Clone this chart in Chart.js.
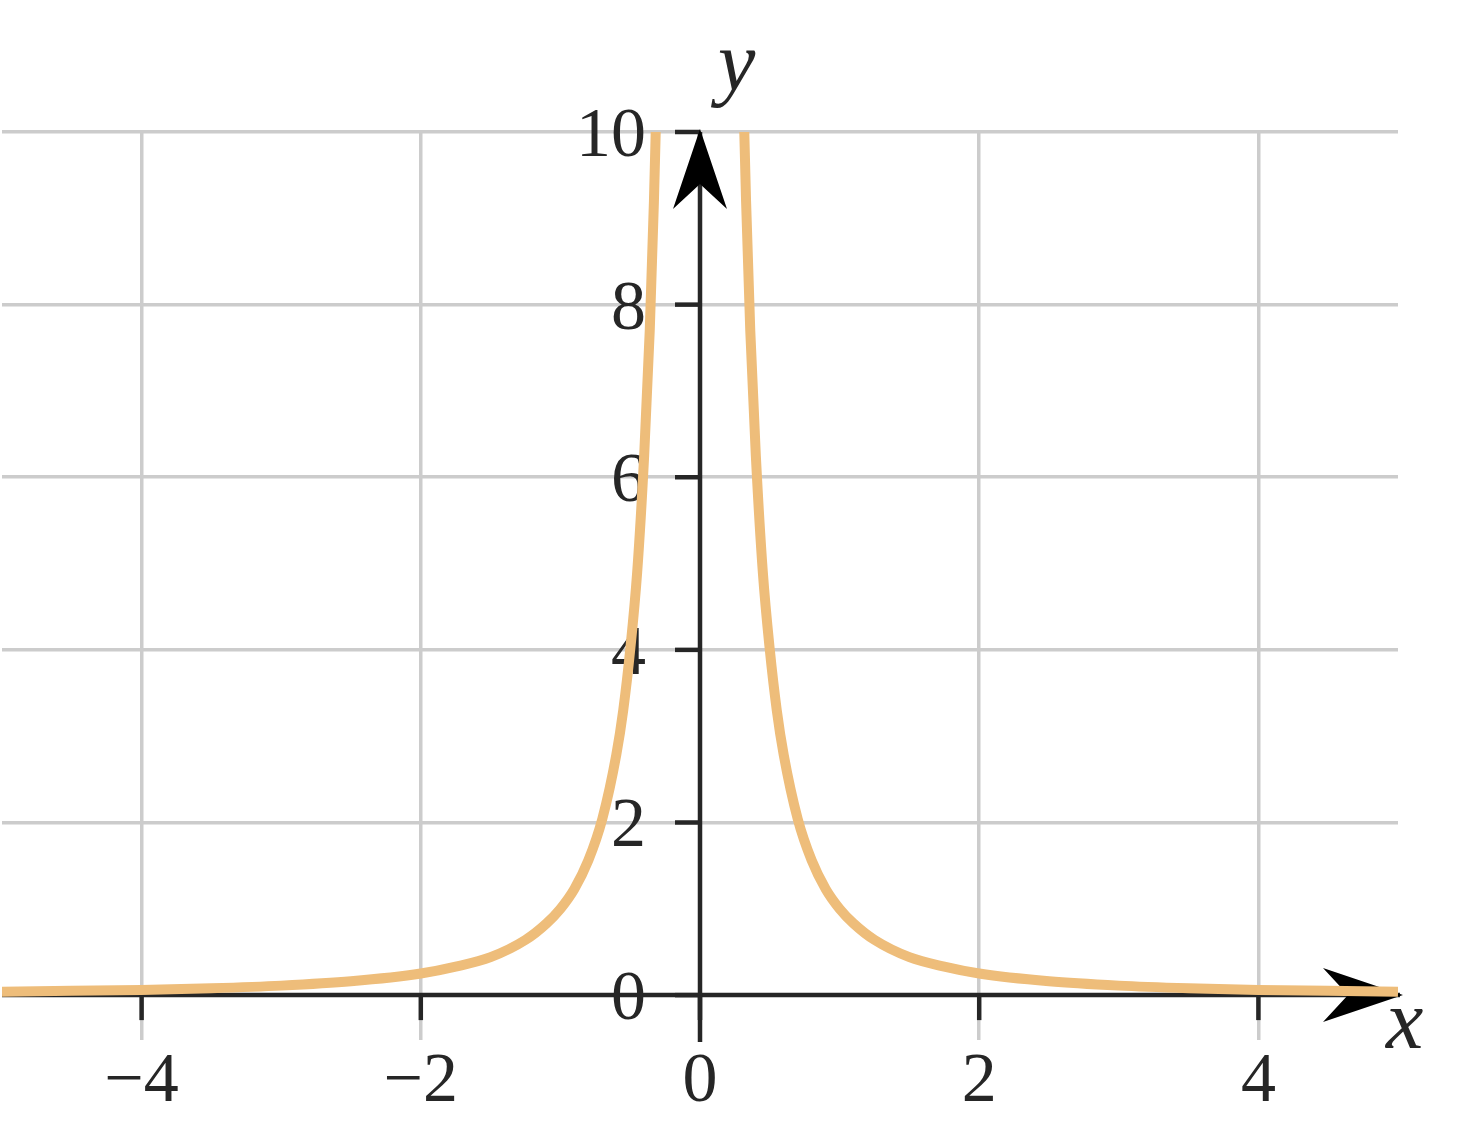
<!DOCTYPE html>
<html>
<head>
<meta charset="utf-8">
<script src="https://cdn.jsdelivr.net/npm/chart.js@4"></script>
<style>
  html, body { margin: 0; padding: 0; background: #fff; }
  #wrap { width: 1462px; height: 1145px; }
</style>
</head>
<body>
<div id="wrap"><canvas id="curveChart" width="1462" height="1145"></canvas></div>
<script>
// values (the curve is cut at y = 10)
const xValues = [-5, -4.5, -4, -3.5, -3, -2.5, -2, -1.75, -1.5, -1.25, -1.1, -1, -0.9, -0.8, -0.7, -0.6, -0.55, -0.5, -0.45, -0.4, -0.36, -0.33, -0.3,
  0,
  0.3, 0.33, 0.36, 0.4, 0.45, 0.5, 0.55, 0.6, 0.7, 0.8, 0.9, 1, 1.1, 1.25, 1.5, 1.75, 2, 2.5, 3, 3.5, 4, 4.5, 5];
const yValues = [0.04, 0.05, 0.06, 0.08, 0.11, 0.16, 0.25, 0.33, 0.44, 0.64, 0.83, 1.0, 1.23, 1.56, 2.04, 2.78, 3.3, 4.0, 4.9, 6.25, 7.7, 9.2, 11.1,
  null,
  11.1, 9.2, 7.7, 6.25, 4.9, 4.0, 3.3, 2.78, 2.04, 1.56, 1.23, 1.0, 0.83, 0.64, 0.44, 0.33, 0.25, 0.16, 0.11, 0.08, 0.06, 0.05, 0.04];
const xTicks = [-4, -2, 0, 2, 4];
const yTicks = [0, 2, 4, 6, 8, 10];

const ink = '#262626';
const labelFont = '70px "Liberation Serif", "DejaVu Serif", serif';

function fmt(v) {
  return v < 0 ? '\u2212' + Math.abs(v) : String(v);
}

// arrow head with a notched back, pointing along (dx, dy)
function arrowHead(ctx, tx, ty, dx, dy) {
  const len = 80, half = 27, notch = 55;
  const px = -dy, py = dx;
  ctx.beginPath();
  ctx.moveTo(tx, ty);
  ctx.lineTo(tx - dx * len + px * half, ty - dy * len + py * half);
  ctx.lineTo(tx - dx * notch, ty - dy * notch);
  ctx.lineTo(tx - dx * len - px * half, ty - dy * len - py * half);
  ctx.closePath();
  ctx.fill();
}

// axes through the origin, ticks, labels
const centerAxes = {
  id: 'centerAxes',
  beforeDatasetsDraw(chart) {
    const { ctx, chartArea, scales } = chart;
    const x0 = scales.x.getPixelForValue(0);
    const y0 = scales.y.getPixelForValue(0);
    ctx.save();
    ctx.strokeStyle = ink;
    ctx.fillStyle = '#000';
    ctx.lineWidth = 4.5;

    // x axis
    ctx.beginPath();
    ctx.moveTo(chartArea.left, y0);
    ctx.lineTo(chartArea.right + 2, y0);
    ctx.stroke();
    // y axis
    ctx.beginPath();
    ctx.moveTo(x0, chartArea.bottom + 2);
    ctx.lineTo(x0, chartArea.top);
    ctx.stroke();

    // tick marks
    xTicks.forEach(v => {
      const px = scales.x.getPixelForValue(v);
      ctx.beginPath();
      ctx.moveTo(px, y0);
      ctx.lineTo(px, y0 + 25);
      ctx.stroke();
    });
    yTicks.forEach(v => {
      const py = scales.y.getPixelForValue(v);
      ctx.beginPath();
      ctx.moveTo(x0 - 25, py);
      ctx.lineTo(x0, py);
      ctx.stroke();
    });

    // arrow heads
    arrowHead(ctx, chartArea.right + 5, y0, 1, 0);
    arrowHead(ctx, x0, chartArea.top - 3, 0, -1);

    // tick labels
    ctx.fillStyle = ink;
    ctx.font = labelFont;
    ctx.textBaseline = 'alphabetic';
    ctx.textAlign = 'center';
    xTicks.forEach(v => {
      ctx.fillText(fmt(v), scales.x.getPixelForValue(v), y0 + 106);
    });
    ctx.textAlign = 'right';
    yTicks.forEach(v => {
      ctx.fillText(fmt(v), x0 - 54, scales.y.getPixelForValue(v) + 24);
    });

    // axis names
    ctx.font = 'italic 84px "Liberation Serif", "DejaVu Serif", serif';
    ctx.textAlign = 'left';
    ctx.fillText('y', x0 + 18, chartArea.top - 42);
    ctx.fillText('x', chartArea.right - 12, y0 + 53);
    ctx.restore();
  }
};

const ctx = document.getElementById('curveChart').getContext('2d');
new Chart(ctx, {
  type: 'line',
  data: {
    datasets: [{
      data: xValues.map((x, i) => ({ x: x, y: yValues[i] })),
      borderColor: '#eebd7a',
      borderWidth: 10,
      pointRadius: 0,
      spanGaps: false,
      cubicInterpolationMode: 'monotone',
      borderCapStyle: 'butt'
    }]
  },
  options: {
    responsive: false,
    animation: false,
    events: [],
    layout: { padding: { left: 2, right: 64, top: 132, bottom: 105 } },
    plugins: { legend: { display: false }, tooltip: { enabled: false } },
    scales: {
      x: {
        type: 'linear',
        min: -5,
        max: 5,
        afterBuildTicks: axis => { axis.ticks = xTicks.map(v => ({ value: v })); },
        ticks: { display: false },
        border: { display: false },
        grid: { color: '#cccccc', lineWidth: 3.5, drawTicks: false }
      },
      y: {
        type: 'linear',
        min: -0.52,
        max: 10,
        afterBuildTicks: axis => { axis.ticks = yTicks.map(v => ({ value: v })); },
        ticks: { display: false },
        border: { display: false },
        grid: { color: '#cccccc', lineWidth: 3.5, drawTicks: false }
      }
    }
  },
  plugins: [centerAxes]
});
</script>
</body>
</html>
